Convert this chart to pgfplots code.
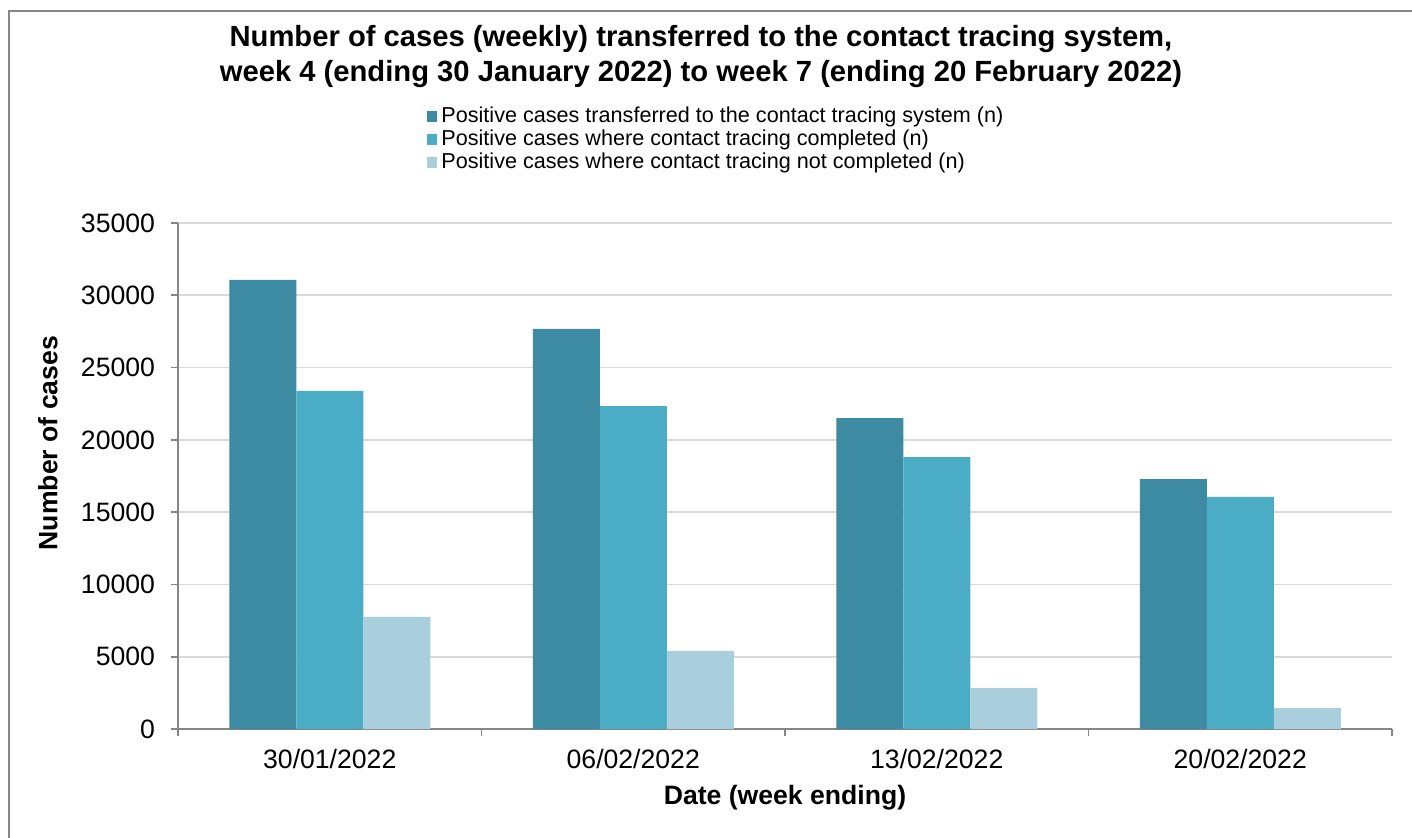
\documentclass[border=0pt]{standalone}
\usepackage{fontspec}
\setmainfont{Liberation Sans}
\usepackage{pgfplots}
\pgfplotsset{compat=1.18}
\definecolor{cdark}{RGB}{60,139,162}
\definecolor{cmid}{RGB}{75,172,198}
\definecolor{clight}{RGB}{169,207,221}
\definecolor{axgray}{RGB}{134,134,134}
\definecolor{gridgray}{RGB}{217,217,217}
\begin{document}
\begin{tikzpicture}
\useasboundingbox (0,0) rectangle (706pt,-419pt);
\draw[axgray, line width=0.8pt] (4.5pt,-419pt) -- (4.5pt,-5.5pt) -- (706pt,-5.5pt);
\node[align=center, font=\bfseries\fontsize{14.6pt}{17.5pt}\selectfont] at (350.5pt,-28.25pt)
  {Number of cases (weekly) transferred to the contact tracing system,\\
   week 4 (ending 30 January 2022) to week 7 (ending 20 February 2022)};
\begin{axis}[
  at={(89pt,-364.5pt)}, anchor=south west,
  scale only axis, width=607pt, height=253pt,
  ybar=0pt, bar width=33.5pt,
  xmin=-0.5, xmax=3.5, ymin=0, ymax=35000,
  xtick={0,1,2,3},
  xticklabels={30/01/2022,06/02/2022,13/02/2022,20/02/2022},
  minor xtick={-0.5,0.5,1.5,2.5,3.5},
  ytick={0,5000,...,35000},
  scaled y ticks=false,
  axis x line*=bottom, axis y line*=left,
  axis line style={axgray, line width=0.9pt},
  tick align=outside,
  major tick length=3.5pt, minor tick length=3.5pt,
  x tick style={draw=none},
  minor x tick style={draw=axgray, line width=0.9pt},
  y tick style={axgray, line width=0.9pt},
  ymajorgrids, grid style={gridgray, line width=0.8pt},
  /pgf/number format/1000 sep={},
  /pgf/number format/assume math mode=true,
  ticklabel style={font=\fontsize{13.3pt}{15pt}\selectfont},
  yticklabel style={xshift=-4.5pt},
  xticklabel style={yshift=-3pt},
  xlabel={Date (week ending)}, ylabel={Number of cases},
  every axis y label/.style={at={(axis description cs:-0.1071,0.565)}, rotate=90, anchor=center,
    font=\bfseries\fontsize{13.3pt}{15pt}\selectfont},
  every axis x label/.style={at={(axis description cs:0.5,-0.136)}, anchor=center,
    font=\bfseries\fontsize{13.3pt}{15pt}\selectfont},
  legend style={at={(axis description cs:0.2045,1.238)}, anchor=north west, draw=none,
    font=\fontsize{10.8pt}{11.5pt}\selectfont, row sep=-1.8pt, inner sep=0pt,
    legend cell align=left},
  legend image code/.code={\fill[#1] (0pt,-2.7pt) rectangle (5.4pt,2.7pt);},
]
\addplot[fill=cdark, draw=none] coordinates {(0,31060) (1,27670) (2,21510) (3,17290)};
\addplot[fill=cmid, draw=none] coordinates {(0,23380) (1,22340) (2,18810) (3,16050)};
\addplot[fill=clight, draw=none] coordinates {(0,7750) (1,5400) (2,2840) (3,1450)};
\legend{Positive cases transferred to the contact tracing system (n),
  Positive cases where contact tracing completed (n),
  Positive cases where contact tracing not completed (n)}
\end{axis}
\end{tikzpicture}
\end{document}
